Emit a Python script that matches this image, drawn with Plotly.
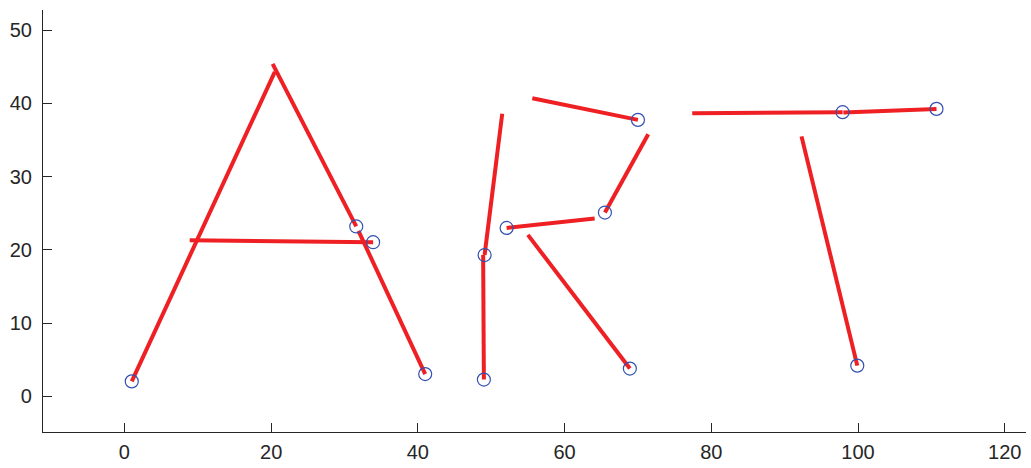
import plotly.graph_objects as go

# Pen strokes spelling "ART": each stroke starts at (x0, y0) and ends at (x1, y1)
stroke_names = ["A left", "A right upper", "A bar", "A right lower",
                "R stem lower", "R stem upper", "R middle", "R bowl",
                "R top", "R leg", "T bar left", "T bar right", "T stem"]
x0 = [1.0, 31.6, 33.9, 41.0, 49.0, 49.1, 52.1, 65.5, 70.0, 68.9, 97.9, 110.7, 99.9]
y0 = [2.05, 23.2, 21.05, 3.05, 2.3, 19.3, 23.0, 25.1, 37.75, 3.8, 38.8, 39.25, 4.2]
x1 = [20.5, 20.2, 8.9, 31.9, 48.9, 51.5, 64.1, 71.4, 55.6, 55.0, 77.4, 98.0, 92.3]
y1 = [44.3, 45.4, 21.3, 22.6, 19.3, 38.6, 24.3, 35.8, 40.7, 22.05, 38.65, 38.75, 35.5]

x_ticks = [0, 20, 40, 60, 80, 100, 120]
y_ticks = [0, 10, 20, 30, 40, 50]

line_x, line_y = [], []
for xa, ya, xb, yb in zip(x0, y0, x1, y1):
    line_x += [xa, xb, None]
    line_y += [ya, yb, None]

fig = go.Figure()
fig.add_trace(go.Scatter(
    x=line_x, y=line_y, mode="lines",
    line=dict(color="#EE2024", width=4),
    hoverinfo="skip", showlegend=False,
))
fig.add_trace(go.Scatter(
    x=x0, y=y0, mode="markers", text=stroke_names,
    marker=dict(symbol="circle-open", size=13, color="#3350B0",
                line=dict(width=1.2, color="#3350B0")),
    showlegend=False,
))

axis_common = dict(
    showline=True, linecolor="#262626", linewidth=1.2,
    ticks="inside", ticklen=9, tickwidth=1, tickcolor="#262626",
    showgrid=False, zeroline=False, mirror=False, automargin=False,
    tickfont=dict(family="Liberation Sans, Arial, sans-serif", size=20, color="#262626"),
)

fig.update_layout(
    width=1031, height=468,
    margin=dict(l=43, r=5, t=10, b=36),
    paper_bgcolor="white", plot_bgcolor="white",
    xaxis=dict(range=[-11.1, 122.9], tickvals=x_ticks, ticklabelstandoff=2, **axis_common),
    yaxis=dict(range=[-4.86, 52.75], tickvals=y_ticks, ticklabelstandoff=6, **axis_common),
)

fig.write_html("out.html")
